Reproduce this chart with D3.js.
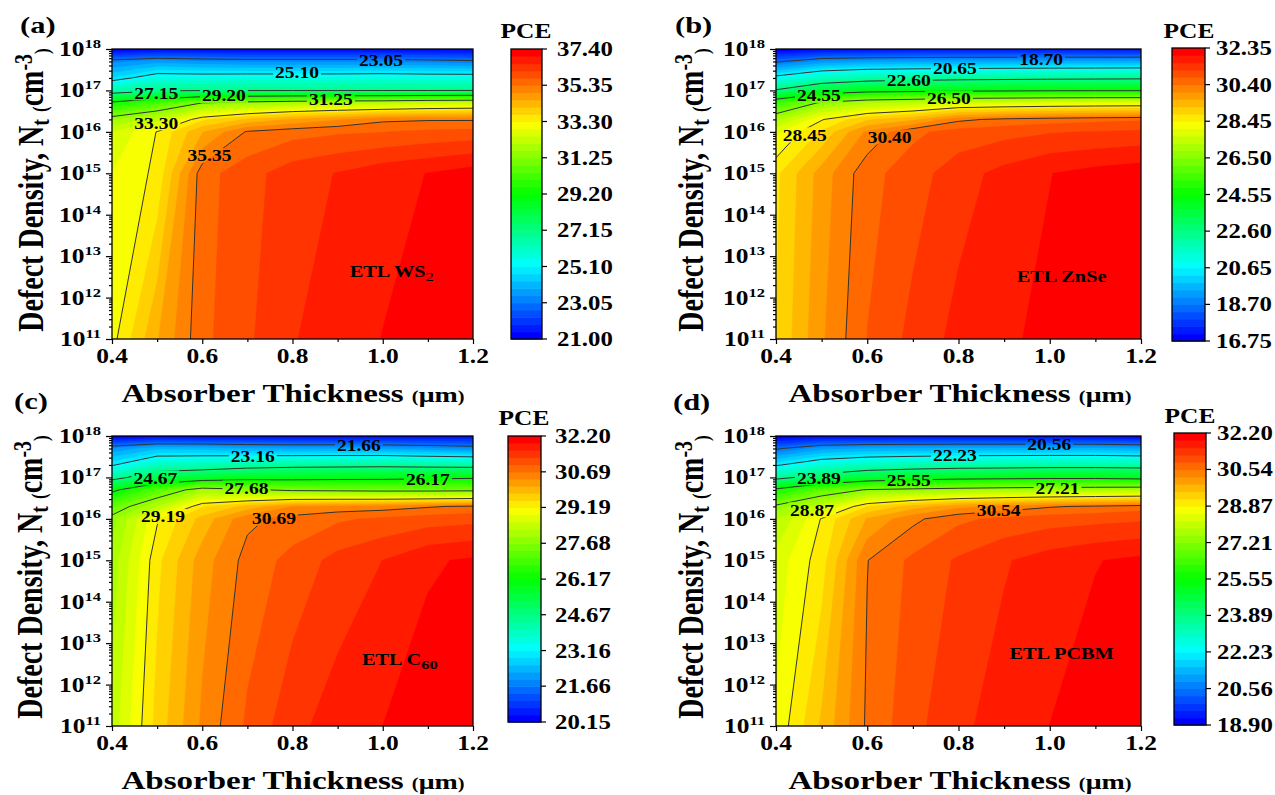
<!DOCTYPE html>
<html><head><meta charset="utf-8">
<script src="https://cdn.jsdelivr.net/npm/d3@7"></script>
<style>
body{margin:0;background:#fff}
svg{display:block}
text{font-family:"Liberation Serif","Times New Roman",serif;font-weight:bold;fill:#000}
</style>
</head><body>
<svg id="chart" width="1275" height="795"></svg>
<script>
// ---------------- DATA ----------------
const thickness = [0.4, 0.5, 0.6, 0.7, 0.8, 0.9, 1.0, 1.1, 1.2];          // µm
const logDefect = [11, 15, 16, 16.3, 16.7, 17, 17.3, 17.7, 18];            // log10 Nt (cm^-3)

// PCE (%) rows follow logDefect, columns follow thickness
const pceWS2 = [
  [33.15, 34.50, 35.65, 36.10, 36.55, 36.80, 37.00, 37.25, 37.40],
  [32.90, 33.40, 35.60, 36.00, 36.40, 36.60, 36.85, 37.00, 37.20],
  [32.50, 33.32, 34.50, 35.40, 35.60, 35.70, 35.75, 35.85, 35.90],
  [31.63, 32.28, 33.62, 34.20, 34.60, 34.90, 35.25, 35.30, 35.30],
  [29.41, 30.27, 31.25, 31.60, 31.85, 32.00, 32.05, 32.25, 32.35],
  [26.49, 27.01, 27.10, 27.10, 27.10, 27.10, 27.12, 27.12, 27.15],
  [24.72, 25.61, 25.60, 25.65, 25.65, 25.65, 25.70, 25.65, 25.65],
  [23.33, 23.68, 23.50, 23.40, 23.40, 23.40, 23.40, 23.30, 23.18],
  [21.00, 21.20, 21.20, 21.20, 21.20, 21.20, 21.20, 21.20, 21.20]
];
const pceZnSe = [
  [28.85, 29.95, 30.80, 31.30, 31.70, 31.90, 32.05, 32.25, 32.35],
  [28.75, 29.80, 30.65, 31.00, 31.40, 31.70, 31.95, 32.10, 32.20],
  [27.95, 28.90, 30.10, 30.70, 30.95, 31.05, 31.15, 31.20, 31.25],
  [27.13, 28.41, 29.17, 29.55, 30.30, 30.50, 30.60, 30.68, 30.73],
  [25.32, 26.63, 27.18, 27.39, 27.70, 27.80, 27.88, 27.93, 27.96],
  [22.70, 23.77, 24.19, 24.27, 24.35, 24.40, 24.45, 24.47, 24.48],
  [20.94, 21.71, 22.08, 22.20, 22.30, 22.35, 22.40, 22.43, 22.46],
  [18.58, 19.22, 19.35, 19.38, 19.42, 19.45, 19.46, 19.47, 19.48],
  [16.75, 17.00, 17.10, 17.20, 17.20, 17.20, 17.20, 17.20, 17.20]
];
const pceC60 = [
  [28.40, 29.60, 30.45, 31.05, 31.50, 31.75, 31.90, 32.10, 32.20],
  [28.10, 29.40, 30.25, 30.80, 31.10, 31.40, 31.60, 31.85, 31.95],
  [27.85, 29.15, 29.90, 30.62, 30.80, 30.95, 31.05, 31.15, 31.20],
  [27.29, 28.28, 29.45, 29.90, 30.40, 30.48, 30.53, 30.65, 30.75],
  [25.99, 27.10, 28.02, 27.78, 27.55, 27.50, 27.45, 27.45, 27.49],
  [24.35, 25.30, 25.57, 25.78, 25.85, 25.90, 25.93, 26.00, 26.06],
  [23.10, 23.98, 24.09, 24.30, 24.40, 24.43, 24.46, 24.40, 24.35],
  [22.00, 22.45, 22.41, 22.25, 22.20, 22.20, 22.18, 22.05, 21.93],
  [20.15, 20.30, 20.30, 20.35, 20.35, 20.35, 20.35, 20.40, 20.40]
];
const pcePCBM = [
  [28.60, 29.60, 30.60, 31.10, 31.45, 31.70, 31.87, 32.05, 32.20],
  [28.35, 29.05, 30.53, 30.95, 31.25, 31.50, 31.70, 31.85, 31.95],
  [27.85, 28.90, 29.90, 30.45, 30.80, 30.95, 31.05, 31.10, 31.15],
  [27.34, 28.09, 29.20, 29.70, 30.10, 30.30, 30.50, 30.60, 30.70],
  [25.73, 26.70, 27.27, 27.40, 27.50, 27.60, 27.65, 27.70, 27.76],
  [23.60, 24.33, 24.86, 25.10, 25.25, 25.30, 25.35, 25.35, 25.24],
  [22.15, 22.83, 23.15, 23.30, 23.40, 23.45, 23.50, 23.50, 23.47],
  [20.46, 21.06, 21.22, 21.25, 21.30, 21.30, 21.30, 21.30, 21.20],
  [18.90, 19.10, 19.10, 19.15, 19.15, 19.15, 19.15, 19.10, 19.00]
];

// colour-bar tick labels (also the contour-line levels, except both ends)
const ticksWS2  = [21.00, 23.05, 25.10, 27.15, 29.20, 31.25, 33.30, 35.35, 37.40];
const ticksZnSe = [16.75, 18.70, 20.65, 22.60, 24.55, 26.50, 28.45, 30.40, 32.35];
const ticksC60  = [20.15, 21.66, 23.16, 24.67, 26.17, 27.68, 29.19, 30.69, 32.20];
const ticksPCBM = [18.90, 20.56, 22.23, 23.89, 25.55, 27.21, 28.87, 30.54, 32.20];

// in-plot contour labels: [thickness, log10 Nt, text]
const labelsWS2  = [[0.996,17.73,"23.05"],[0.810,17.44,"25.10"],[0.498,16.93,"27.15"],[0.648,16.87,"29.20"],[0.885,16.77,"31.25"],[0.498,16.21,"33.30"],[0.616,15.42,"35.35"]];
const labelsZnSe = [[0.981,17.75,"18.70"],[0.792,17.53,"20.65"],[0.691,17.24,"22.60"],[0.494,16.87,"24.55"],[0.779,16.81,"26.50"],[0.463,15.92,"28.45"],[0.649,15.87,"30.40"]];
const labelsC60  = [[0.947,17.78,"21.66"],[0.712,17.50,"23.16"],[0.496,16.98,"24.67"],[1.100,16.94,"26.17"],[0.698,16.74,"27.68"],[0.513,16.05,"29.19"],[0.759,16.01,"30.69"]];
const labelsPCBM = [[0.999,17.80,"20.56"],[0.792,17.54,"22.23"],[0.494,16.98,"23.89"],[0.691,16.92,"25.55"],[1.017,16.74,"27.21"],[0.479,16.21,"28.87"],[0.888,16.21,"30.54"]];

const xTicks = [0.4, 0.6, 0.8, 1.0, 1.2];
const xMinorTicks = [0.5, 0.7, 0.9, 1.1];
const yDecades = [11, 12, 13, 14, 15, 16, 17, 18];
const panelLetters = ["(a)", "(b)", "(c)", "(d)"];
const etlNames = [["ETL WS", "2"], ["ETL ZnSe", ""], ["ETL C", "60"], ["ETL PCBM", ""]];
const etlPos = [[1.02, 12.62], [1.026, 12.5], [1.038, 12.6], [1.026, 12.76]];

// ---------------- LAYOUT ----------------
const N_BANDS = 40;
const SX = 1.27; // horizontal glyph stretch of the original figure
const layout = [
  {plot:[112,473,49,339], cb:[511,542,49,339], cbLab:557, pce:[526,38], letter:[20,33], xt:[293,402], yt:[43,190]},
  {plot:[776,1141,49,339], cb:[1172,1205,48,341], cbLab:1216, pce:[1189,38], letter:[675,33], xt:[960,402], yt:[703,190]},
  {plot:[112,473,436,726], cb:[508,541,436,722], cbLab:555, pce:[524,425], letter:[14,409], xt:[293,789], yt:[42,577]},
  {plot:[776,1141,436,726], cb:[1174,1206,433,725], cbLab:1217, pce:[1190,423], letter:[673,410], xt:[960,789], yt:[703,577]}
];
const datasets = [pceWS2, pceZnSe, pceC60, pcePCBM];
const tickSets = [ticksWS2, ticksZnSe, ticksC60, ticksPCBM];
const labelSets = [labelsWS2, labelsZnSe, labelsC60, labelsPCBM];

const svg = d3.select("#chart");
const defs = svg.append("defs");
const rainbow = d3.scaleLinear().domain([0, 0.25, 0.5, 0.75, 1])
  .range(["#0000ff", "#00ffff", "#00ff00", "#ffff00", "#ff0000"]);

function txt(parent, x, y, size, anchor, rot, sx) {
  return parent.append("text")
    .attr("font-size", size)
    .attr("text-anchor", anchor || "start")
    .attr("transform", `translate(${x},${y}) scale(${sx || SX},1)` + (rot ? ` rotate(${rot})` : ""));
}
function interp(arr, f) {
  let i = Math.floor(f);
  i = Math.max(0, Math.min(arr.length - 2, i));
  return arr[i] + (f - i) * (arr[i + 1] - arr[i]);
}

layout.forEach((L, pi) => {
  const [x0, x1, y0, y1] = L.plot;
  const data = datasets[pi], ticks = tickSets[pi];
  const vmin = ticks[0], vmax = ticks[ticks.length - 1];
  const step = (vmax - vmin) / N_BANDS;
  const xs = d3.scaleLinear().domain([0.4, 1.2]).range([x0, x1]);
  const ys = d3.scaleLog().domain([1e11, 1e18]).range([y1, y0]);
  const nx = thickness.length, ny = logDefect.length;
  const values = data.flat();

  const clipId = "clip" + pi;
  defs.append("clipPath").attr("id", clipId).append("rect")
    .attr("x", x0).attr("y", y0).attr("width", x1 - x0).attr("height", y1 - y0);

  const proj = d3.geoTransform({
    point(x, y) {
      this.stream.point(xs(interp(thickness, x - 0.5)), ys(Math.pow(10, interp(logDefect, y - 0.5))));
    }
  });
  const path = d3.geoPath(proj);
  const g = svg.append("g");

  // filled contour bands
  const fillLevels = d3.range(N_BANDS).map(k => vmin + k * step);
  const fills = d3.contours().size([nx, ny]).thresholds(fillLevels)(values);
  g.append("g").attr("clip-path", `url(#${clipId})`)
    .selectAll("path").data(fills).join("path")
    .attr("d", path)
    .attr("fill", (d, i) => rainbow(i / (N_BANDS - 1)))
    .attr("stroke", (d, i) => rainbow(i / (N_BANDS - 1)))
    .attr("stroke-width", 0.3);

  // contour labels (text first to measure for mask)
  const labG = svg.append("g");
  const labNodes = labelSets[pi].map(([lx, ly, s]) =>
    txt(labG, xs(lx), ys(Math.pow(10, ly)) + 5.5, 16, "middle", 0, 1.22).text(s).node());

  const maskId = "mask" + pi;
  const mask = defs.append("mask").attr("id", maskId).attr("maskUnits", "userSpaceOnUse")
    .attr("x", 0).attr("y", 0).attr("width", 1275).attr("height", 795);
  mask.append("rect").attr("x", 0).attr("y", 0).attr("width", 1275).attr("height", 795).attr("fill", "white");
  const svgRect = svg.node().getBoundingClientRect();
  labNodes.forEach(n => {
    const r = n.getBoundingClientRect();
    mask.append("rect").attr("x", r.left - svgRect.left - 2).attr("y", r.top - svgRect.top + 1)
      .attr("width", r.width + 4).attr("height", r.height - 3).attr("fill", "black");
  });

  // contour lines
  const lineLevels = ticks.slice(1, -1);
  const lines = d3.contours().size([nx, ny]).thresholds(lineLevels)(values);
  const lg = svg.insert("g", () => labG.node()).attr("clip-path", `url(#${clipId})`);
  lg.append("g").attr("mask", `url(#${maskId})`)
    .selectAll("path").data(lines).join("path")
    .attr("d", path).attr("fill", "none").attr("stroke", "#333").attr("stroke-width", 1);

  // ETL annotation
  const [ex, ey] = etlPos[pi];
  const et = txt(svg, xs(ex), ys(Math.pow(10, ey)) + 5.5, 16, "middle");
  et.append("tspan").text(etlNames[pi][0]);
  if (etlNames[pi][1]) et.append("tspan").attr("font-size", 13).attr("dy", 4)
    .attr("font-weight", pi === 0 ? "normal" : "bold").text(etlNames[pi][1]);

  // frame
  svg.append("rect").attr("x", x0).attr("y", y0).attr("width", x1 - x0).attr("height", y1 - y0)
    .attr("fill", "none").attr("stroke", "#000").attr("stroke-width", 1.3);

  // axes ticks
  const axStyle = sel => { sel.select(".domain").remove(); sel.selectAll("line").attr("stroke", "#000").attr("stroke-width", 1.2); sel.selectAll("text").remove(); };
  svg.append("g").attr("transform", `translate(0,${y1})`)
    .call(d3.axisBottom(xs).tickValues(xTicks).tickSize(5).tickSizeOuter(0)).call(axStyle);
  svg.append("g").attr("transform", `translate(0,${y1})`)
    .call(d3.axisBottom(xs).tickValues(xMinorTicks).tickSize(3).tickSizeOuter(0)).call(axStyle);
  svg.append("g").attr("transform", `translate(${x0},0)`)
    .call(d3.axisLeft(ys).tickValues(yDecades.map(d => Math.pow(10, d))).tickSize(6).tickSizeOuter(0)).call(axStyle);
  const minor = [];
  yDecades.slice(0, -1).forEach(d => { for (let m = 2; m <= 9; m++) minor.push(m * Math.pow(10, d)); });
  svg.append("g").attr("transform", `translate(${x0},0)`)
    .call(d3.axisLeft(ys).tickValues(minor).tickSize(3).tickSizeOuter(0)).call(axStyle);

  // tick labels
  xTicks.forEach(v => txt(svg, xs(v), y1 + 24, 20, "middle").text(d3.format(".1f")(v)));
  yDecades.forEach(d => {
    const t = txt(svg, x0 - 11, ys(Math.pow(10, d)) + 7, 20, "end");
    t.append("tspan").text("10");
    t.append("tspan").attr("font-size", 13).attr("dy", -8).text(d);
  });

  // axis titles
  const xt = txt(svg, L.xt[0], L.xt[1], 26, "middle");
  xt.append("tspan").text("Absorber Thickness\u00A0");
  xt.append("tspan").attr("font-size", 16).text("(");
  xt.append("tspan").attr("font-size", 22).text("μm");
  xt.append("tspan").attr("font-size", 16).text(")");

  const yt = txt(svg, L.yt[0], L.yt[1], 28, "middle", -90);
  yt.append("tspan").text("Defect Density, N");
  yt.append("tspan").attr("font-size", 20).attr("dy", 5).text("t");
  yt.append("tspan").attr("font-size", 28).attr("dy", -2).text("\u00A0");
  yt.append("tspan").attr("font-size", 17).text("(");
  yt.append("tspan").attr("font-size", 28).attr("dy", -3).text("cm");
  yt.append("tspan").attr("font-size", 20).attr("dy", -9).text("-3");
  yt.append("tspan").attr("font-size", 17).attr("dy", 14).text(")");

  // panel letter
  txt(svg, L.letter[0], L.letter[1], 24, "start").text(panelLetters[pi]);

  // colour bar
  const [cx0, cx1, cy0, cy1] = L.cb;
  const cs = d3.scaleLinear().domain([vmin, vmax]).range([cy1, cy0]);
  const cbg = svg.append("g");
  d3.range(N_BANDS).forEach(k => {
    const top = cs(vmin + (k + 1) * step), bot = cs(vmin + k * step);
    cbg.append("rect").attr("x", cx0).attr("width", cx1 - cx0)
      .attr("y", top).attr("height", bot - top + 0.6)
      .attr("fill", rainbow(k / (N_BANDS - 1)));
  });
  cbg.append("rect").attr("x", cx0).attr("y", cy0).attr("width", cx1 - cx0).attr("height", cy1 - cy0)
    .attr("fill", "none").attr("stroke", "#000").attr("stroke-width", 1.3);
  ticks.forEach(v => {
    cbg.append("line").attr("x1", cx1).attr("x2", cx1 + 5).attr("y1", cs(v)).attr("y2", cs(v))
      .attr("stroke", "#000").attr("stroke-width", 1.2);
    txt(cbg, L.cbLab, cs(v) + 7, 20, "start", 0, 1.24).text(d3.format(".2f")(v));
  });
  txt(svg, L.pce[0], L.pce[1], 20, "middle").text("PCE");
});
</script>
</body></html>
